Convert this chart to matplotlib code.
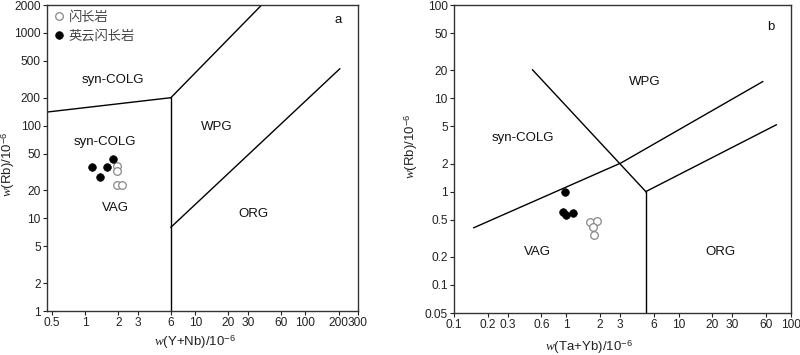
import matplotlib
matplotlib.use("Agg")
import matplotlib.pyplot as plt
from matplotlib.ticker import FixedLocator, FixedFormatter, NullLocator

plt.rcParams['font.family'] = ['Liberation Sans', 'Noto Sans CJK SC', 'DejaVu Sans']
plt.rcParams['mathtext.fontset'] = 'custom'
plt.rcParams['mathtext.rm'] = 'Liberation Sans'
plt.rcParams['mathtext.it'] = 'Liberation Serif:italic'

# ---------------- data ----------------
series_names = ['闪长岩', '英云闪长岩']

# panel a: Rb vs (Y+Nb)
a_diorite_x = [1.93, 1.96, 1.93, 2.15]
a_diorite_y = [37.1, 32.3, 22.6, 22.6]
a_tonalite_x = [1.146, 1.57, 1.78, 1.36]
a_tonalite_y = [36.2, 35.6, 43.8, 27.8]

# panel b: Rb vs (Ta+Yb)
b_diorite_x = [1.62, 1.86, 1.71, 1.77]
b_diorite_y = [0.474, 0.481, 0.419, 0.346]
b_tonalite_x = [0.977, 0.94, 0.99, 1.135]
b_tonalite_y = [0.98, 0.607, 0.558, 0.592]

# boundary lines (data coordinates)
a_bound1_x = [0.45, 6]; a_bound1_y = [140, 200]
a_bound2_x = [6, 6]; a_bound2_y = [1, 200]
a_bound3_x = [6, 40]; a_bound3_y = [200, 2000]
a_bound4_x = [6, 205]; a_bound4_y = [8, 410]

b_bound1_x = [0.15, 3.07, 56]; b_bound1_y = [0.41, 2.03, 15.1]
b_bound2_x = [0.5, 5.1]; b_bound2_y = [20.2, 1.0]
b_bound3_x = [5.1, 5.1]; b_bound3_y = [1.0, 0.05]
b_bound4_x = [5.1, 74]; b_bound4_y = [1.0, 5.2]

a_xticks = [0.5, 1, 2, 3, 6, 10, 20, 30, 60, 100, 200, 300]
a_yticks = [1, 2, 5, 10, 20, 50, 100, 200, 500, 1000, 2000]
b_xticks = [0.1, 0.2, 0.3, 0.6, 1, 2, 3, 6, 10, 20, 30, 60, 100]
b_yticks = [0.05, 0.1, 0.2, 0.5, 1, 2, 5, 10, 20, 50, 100]

def fmt(v):
    return ('%g' % v)

# ---------------- figure ----------------
fig = plt.figure(figsize=(8, 3.55), dpi=100)
axa = fig.add_axes([47/800, 1-311/355, (358-47)/800, (311-5)/355])
axb = fig.add_axes([454/800, 1-313/355, (791-454)/800, (313-5)/355])
ax_px = {axa: (47, 358, 5, 311), axb: (454, 791, 5, 313)}

line_kw = dict(color='black', lw=1.0)
open_kw = dict(marker='o', ls='none', ms=5.5, mfc='white', mec='#888888', mew=0.9)
fill_kw = dict(marker='o', ls='none', ms=5.5, mfc='black', mec='black', mew=0.5)
txt_kw = dict(fontsize=9.5, ha='center', va='center', color='#111111')

def style(ax, xt, yt, xlim, ylim):
    ax.set_xscale('log'); ax.set_yscale('log')
    ax.set_xlim(*xlim); ax.set_ylim(*ylim)
    ax.xaxis.set_major_locator(FixedLocator(xt))
    ax.xaxis.set_major_formatter(FixedFormatter([fmt(v) for v in xt]))
    ax.yaxis.set_major_locator(FixedLocator(yt))
    ax.yaxis.set_major_formatter(FixedFormatter([fmt(v) for v in yt]))
    ax.xaxis.set_minor_locator(NullLocator())
    ax.yaxis.set_minor_locator(NullLocator())
    ax.tick_params(axis='both', which='major', direction='out', length=3,
                   width=0.8, labelsize=8.6, pad=1.5, colors='#222222')
    for s in ax.spines.values():
        s.set_linewidth(1.0); s.set_color('#333333')

def ptext(ax, px, py, s, **kw):
    x0, x1, y0, y1 = ax_px[ax]
    ax.text((px - x0) / (x1 - x0), (y1 - py) / (y1 - y0), s,
            transform=ax.transAxes, **kw)

# panel a
style(axa, a_xticks, a_yticks, (0.45, 300), (1, 2000))
for xs, ys in [(a_bound1_x, a_bound1_y), (a_bound2_x, a_bound2_y),
               (a_bound3_x, a_bound3_y), (a_bound4_x, a_bound4_y)]:
    axa.plot(xs, ys, **line_kw)
h1, = axa.plot(a_diorite_x, a_diorite_y, **open_kw)
h2, = axa.plot(a_tonalite_x, a_tonalite_y, **fill_kw)
ptext(axa, 112.7, 80.3, 'syn-COLG', **txt_kw)
ptext(axa, 105, 142, 'syn-COLG', **txt_kw)
ptext(axa, 216.7, 126.7, 'WPG', **txt_kw)
ptext(axa, 115, 207.7, 'VAG', **txt_kw)
ptext(axa, 253, 214.3, 'ORG', **txt_kw)
ptext(axa, 338, 19.5, 'a', **txt_kw)
leg = axa.legend([h1, h2], series_names, loc='upper left', frameon=False,
                 bbox_to_anchor=(-0.003, 1.012), handlelength=0.6, handletextpad=0.4,
                 labelspacing=0.45, borderaxespad=0.3,
                 prop={'family': ['Noto Sans CJK SC'], 'size': 9.5})
for t in leg.get_texts():
    t.set_color('#444444')
axa.set_xlabel(r'$w$(Y+Nb)/10$^{-6}$', fontsize=9.5, color='#222222')
axa.xaxis.set_label_coords(0.476, -0.072)
axa.set_ylabel(r'$w$(Rb)/10$^{-6}$', fontsize=9.5, color='#222222')
axa.yaxis.set_label_coords(-0.096, 0.48)

# panel b
style(axb, b_xticks, b_yticks, (0.1, 100), (0.05, 100))
for xs, ys in [(b_bound1_x, b_bound1_y), (b_bound2_x, b_bound2_y),
               (b_bound3_x, b_bound3_y), (b_bound4_x, b_bound4_y)]:
    axb.plot(xs, ys, **line_kw)
axb.plot(b_diorite_x, b_diorite_y, **open_kw)
axb.plot(b_tonalite_x, b_tonalite_y, **fill_kw)
ptext(axb, 645, 82, 'WPG', **txt_kw)
ptext(axb, 523, 138, 'syn-COLG', **txt_kw)
ptext(axb, 537, 252, 'VAG', **txt_kw)
ptext(axb, 720, 252, 'ORG', **txt_kw)
ptext(axb, 771, 27, 'b', **txt_kw)
axb.set_xlabel(r'$w$(Ta+Yb)/10$^{-6}$', fontsize=9.5, color='#222222')
axb.xaxis.set_label_coords(0.40, -0.082)
axb.set_ylabel(r'$w$(Rb)/10$^{-6}$', fontsize=9.5, color='#222222')
axb.yaxis.set_label_coords(-0.10, 0.54)

fig.savefig('out.png', dpi=100)
